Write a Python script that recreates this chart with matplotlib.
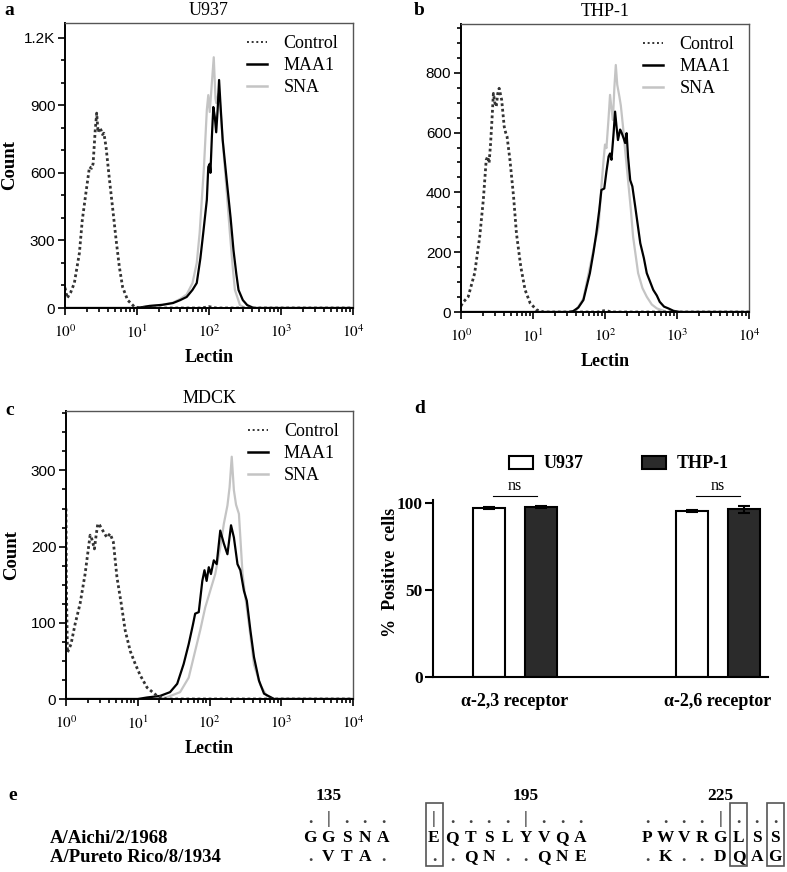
import numpy as np
import matplotlib.pyplot as plt
from matplotlib import font_manager
from matplotlib.lines import Line2D
from matplotlib.patches import Patch, Rectangle
from matplotlib.ticker import LogLocator, FuncFormatter, NullFormatter

plt.rcParams['mathtext.fontset'] = 'stix'
SERIF = 'Liberation Serif'
try:
    font_manager.findfont('Liberation Sans Narrow', fallback_to_default=False)
    SANS = 'Liberation Sans Narrow'
except ValueError:
    SANS = 'Liberation Sans'

# ---- flow histograms: (log10 lectin, count) ----
a_ctrl_x = [0.0, 0.03, 0.08, 0.13, 0.2, 0.24, 0.29, 0.34, 0.37, 0.39, 0.42, 0.44, 0.46, 0.48, 0.5, 0.52,
            0.54, 0.57, 0.615, 0.66, 0.71, 0.755, 0.8, 0.87, 0.965, 1.05, 1.9, 2.0, 2.1, 4.0]
a_ctrl_y = [90, 44, 70, 111, 244, 390, 510, 626, 620, 640, 790, 865, 780, 800, 790, 770,
            776, 715, 577, 448, 302, 182, 93, 35, 5, 0, 0, 6, 0, 0]
a_maa_x = [0.0, 1.0, 1.17, 1.35, 1.5, 1.6, 1.69, 1.77, 1.83, 1.88, 1.92, 1.97, 1.99, 2.01, 2.02, 2.04,
           2.06, 2.08, 2.1, 2.12, 2.14, 2.16, 2.19, 2.25, 2.3, 2.34, 2.38, 2.41, 2.47, 2.53, 2.62, 4.0]
a_maa_y = [0, 0, 9, 14, 22, 35, 49, 80, 111, 220, 333, 480, 626, 640, 600, 760,
           892, 850, 780, 880, 1012, 900, 746, 555, 400, 257, 150, 80, 35, 13, 0, 0]
a_sna_x = [0.0, 1.0, 1.17, 1.35, 1.5, 1.6, 1.69, 1.77, 1.83, 1.87, 1.93, 1.97, 1.99, 2.01, 2.04, 2.066,
           2.09, 2.1, 2.13, 2.15, 2.2, 2.25, 2.29, 2.33, 2.36, 2.43, 2.5, 4.0]
a_sna_y = [0, 0, 9, 14, 24, 40, 60, 110, 200, 333, 626, 880, 945, 870, 1000, 1113,
           930, 910, 950, 923, 700, 500, 333, 180, 80, 13, 0, 0]

b_ctrl_x = [0.0, 0.02, 0.1, 0.19, 0.26, 0.31, 0.35, 0.37, 0.39, 0.41, 0.43, 0.45, 0.47, 0.49, 0.51, 0.53,
            0.565, 0.6, 0.62, 0.64, 0.68, 0.73, 0.77, 0.83, 0.89, 0.96, 1.05, 1.15, 1.9, 2.0, 2.1, 4.0]
b_ctrl_y = [20, 30, 51, 130, 252, 375, 508, 520, 498, 560, 642, 731, 700, 687, 730, 748,
            709, 620, 600, 586, 508, 386, 263, 152, 74, 30, 7, 0, 0, 5, 0, 0]
b_maa_x = [0.0, 1.5, 1.56, 1.63, 1.7, 1.79, 1.84, 1.88, 1.92, 1.95, 1.99, 2.02, 2.05, 2.07, 2.09, 2.12,
           2.14, 2.16, 2.18, 2.21, 2.23, 2.26, 2.28, 2.3, 2.32, 2.35, 2.38, 2.42, 2.49, 2.54, 2.58, 2.67,
           2.72, 2.76, 2.82, 2.88, 2.95, 3.04, 4.0]
b_maa_y = [0, 0, 3, 15, 40, 130, 200, 264, 340, 408, 413, 470, 520, 530, 509, 600,
           670, 620, 575, 610, 600, 580, 565, 598, 520, 441, 420, 352, 230, 180, 130, 74,
           55, 34, 18, 12, 4, 0, 0]
b_sna_x = [0.0, 1.5, 1.56, 1.61, 1.7, 1.79, 1.85, 1.91, 1.95, 1.98, 2.0, 2.02, 2.05, 2.07, 2.09, 2.11,
           2.13, 2.15, 2.17, 2.2, 2.22, 2.25, 2.28, 2.32, 2.36, 2.39, 2.46, 2.52, 2.58, 2.65, 2.72, 2.86, 4.0]
b_sna_y = [0, 0, 3, 10, 45, 150, 220, 285, 420, 508, 560, 548, 650, 726, 680, 642,
           750, 826, 760, 720, 690, 620, 540, 441, 340, 252, 130, 80, 51, 25, 12, 0, 0]

c_ctrl_x = [0.0, 0.005, 0.02, 0.07, 0.126, 0.196, 0.266, 0.336, 0.36, 0.396, 0.42, 0.443, 0.47, 0.5,
            0.57, 0.615, 0.66, 0.71, 0.77, 0.825, 0.895, 0.965, 1.035, 1.13, 1.27, 1.4, 4.0]
c_ctrl_y = [250, 150, 61, 72, 98, 125, 164, 215, 210, 197, 215, 230, 228, 223,
            212, 217, 206, 160, 125, 90, 63, 46, 31, 15, 4, 0, 0]
c_maa_x = [0.0, 1.0, 1.13, 1.31, 1.45, 1.55, 1.64, 1.71, 1.77, 1.8, 1.85, 1.9, 1.93, 1.96, 1.99, 2.02,
           2.06, 2.1, 2.15, 2.2, 2.25, 2.3, 2.34, 2.39, 2.43, 2.48, 2.52, 2.57, 2.62, 2.69, 2.76, 2.9, 4.0]
c_maa_y = [0, 0, 2, 4, 9, 20, 46, 72, 98, 112, 114, 155, 169, 155, 173, 164,
           182, 177, 221, 204, 190, 228, 212, 177, 169, 142, 129, 90, 55, 24, 7, 0, 0]
c_sna_x = [0.0, 1.2, 1.4, 1.59, 1.71, 1.8, 1.87, 1.94, 2.01, 2.08, 2.15, 2.2, 2.25, 2.28, 2.31, 2.34,
           2.37, 2.41, 2.46, 2.5, 2.55, 2.62, 2.71, 2.8, 2.9, 4.0]
c_sna_y = [0, 0, 2, 9, 28, 63, 90, 120, 142, 164, 199, 230, 254, 278, 318, 274,
           255, 243, 165, 133, 98, 45, 18, 4, 0, 0]

# ---- panel d ----
receptors = ['α-2,3 receptor', 'α-2,6 receptor']
u937_pos = [97.2, 95.8]
u937_err = [0.5, 0.6]
thp1_pos = [97.8, 96.6]
thp1_err = [0.6, 1.9]

# ---- panel e ----
strains = ['A/Aichi/2/1968', 'A/Pureto Rico/8/1934']
site_numbers = ['135', '195', '225']
aichi_blocks = ['GGSNA', 'EQTSLYVQA', 'PWVRGLSS']
pr_blocks = ['.VTA.', '..QN..QNE', '.K..DQAG']
marker_blocks = ['.|...', '|....|...', '....|...']
number_index = [1, 5, 4]
boxed = [[], [0], [5, 7]]

W, H = 787, 872
fig = plt.figure(figsize=(W / 100, H / 100), dpi=100)


def box(l, t, r, b):
    return [l / W, 1 - b / H, (r - l) / W, (b - t) / H]


def flow_panel(ax, ctrl, maa, sna, ylim, yticks, ylabels, minor, title):
    ax.plot(10 ** np.array(sna[0]), sna[1], color='#c4c4c4', lw=1.6)
    ax.plot(10 ** np.array(maa[0]), maa[1], color='black', lw=1.6)
    ax.plot(10 ** np.array(ctrl[0]), ctrl[1], color='#333333', lw=2.0, ls=(0, (1, 1)))
    ax.set_xscale('log')
    ax.set_xlim(1, 1e4)
    ax.set_ylim(0, ylim)
    ax.set_yticks(yticks, ylabels)
    ax.set_yticks(minor, minor=True)
    ax.xaxis.set_major_locator(LogLocator(base=10, numticks=10))
    ax.xaxis.set_major_formatter(FuncFormatter(lambda v, p: r'$10^{%d}$' % round(np.log10(v))))
    ax.xaxis.set_minor_locator(LogLocator(base=10, subs=np.arange(2, 10), numticks=10))
    ax.xaxis.set_minor_formatter(NullFormatter())
    ax.tick_params(which='both', direction='out', top=False, right=False, width=1.2)
    ax.tick_params(which='major', length=5)
    ax.tick_params(which='minor', length=3)
    ax.tick_params(axis='x', labelsize=11, pad=6)
    ax.tick_params(axis='y', pad=2)
    for lab in ax.get_yticklabels():
        lab.set_fontfamily(SANS)
        lab.set_fontsize(11)
    for s in ['top', 'right']:
        ax.spines[s].set_color('#555555')
        ax.spines[s].set_linewidth(1.0)
    for s in ['left', 'bottom']:
        ax.spines[s].set_linewidth(1.4)
    ax.set_title(title, fontfamily=SERIF, fontsize=13, pad=6)
    ax.set_xlabel('Lectin', fontfamily=SERIF, fontweight='bold', fontsize=13, labelpad=6)
    handles = [Line2D([], [], color='#333333', lw=1.4, ls=(0, (1, 1.4))),
               Line2D([], [], color='black', lw=1.8),
               Line2D([], [], color='#c4c4c4', lw=1.8)]
    ax.legend(handles, ['Control', 'MAA1', 'SNA'], loc='upper left', bbox_to_anchor=(0.577, 1.014),
              frameon=False, handlelength=1.1, handletextpad=0.9, labelspacing=0.28,
              prop={'family': SERIF, 'size': 13})


def count_label(ax):
    ax.set_ylabel('Count', fontfamily=SERIF, fontweight='bold', fontsize=13.5)
    ax.yaxis.label.set_va('center')
    ax.yaxis.set_label_coords(-55 / 288, 0.5)


ax_a = fig.add_axes(box(65, 23, 353, 308))
flow_panel(ax_a, (a_ctrl_x, a_ctrl_y), (a_maa_x, a_maa_y), (a_sna_x, a_sna_y), 1265,
           [0, 300, 600, 900, 1200], ['0', '300', '600', '900', '1.2K'],
           [100, 200, 400, 500, 700, 800, 1000, 1100], 'U937')
count_label(ax_a)

ax_b = fig.add_axes(box(461, 24, 749, 312))
flow_panel(ax_b, (b_ctrl_x, b_ctrl_y), (b_maa_x, b_maa_y), (b_sna_x, b_sna_y), 963,
           [0, 200, 400, 600, 800], ['0', '200', '400', '600', '800'],
           [50, 100, 150, 250, 300, 350, 450, 500, 550, 650, 700, 750, 850, 900, 950], 'THP-1')

ax_c = fig.add_axes(box(66, 411, 353, 699))
flow_panel(ax_c, (c_ctrl_x, c_ctrl_y), (c_maa_x, c_maa_y), (c_sna_x, c_sna_y), 378,
           [0, 100, 200, 300], ['0', '100', '200', '300'],
           [25, 50, 75, 125, 150, 175, 225, 250, 275, 325, 350, 375], 'MDCK')
count_label(ax_c)

# ---- panel d ----
ax_d = fig.add_axes(box(432.7, 500, 768.3, 676.7))
xc = np.arange(len(receptors))
off, bw = 0.128, 0.158
ekw = dict(ecolor='black', elinewidth=1.5, capsize=4, capthick=1.5)
ax_d.bar(xc - off, u937_pos, bw, yerr=u937_err, color='white', edgecolor='black', lw=1.5,
         error_kw=ekw, label='U937')
ax_d.bar(xc + off, thp1_pos, bw, yerr=thp1_err, color='#2b2b2b', edgecolor='black', lw=1.5,
         error_kw=ekw, label='THP-1')
ax_d.set_xlim(-0.406, 1.25)
ax_d.set_ylim(0, 102)
ax_d.set_yticks([0, 50, 100])
ax_d.set_xticks(xc, receptors)
ax_d.tick_params(axis='x', length=0, pad=12)
ax_d.tick_params(axis='y', direction='out', length=6, width=1.5, pad=1)
for lab in ax_d.get_xticklabels() + ax_d.get_yticklabels():
    lab.set_fontfamily(SERIF)
    lab.set_fontweight('bold')
    lab.set_fontsize(13)
for lab in ax_d.get_yticklabels():
    lab.set_fontsize(12.5)
for s in ['top', 'right']:
    ax_d.spines[s].set_visible(False)
for s in ['left', 'bottom']:
    ax_d.spines[s].set_linewidth(1.5)
ax_d.set_ylabel('%  Positive  cells', fontfamily=SERIF, fontweight='bold', fontsize=13)
ax_d.yaxis.label.set_va('center')
ax_d.yaxis.set_label_coords(-42 / 335.6, 0.593)
for x in xc:
    ax_d.plot([x - off + 0.02, x + off - 0.02], [104.4, 104.4], color='black', lw=0.8, clip_on=False)
    ax_d.text(x, 105.5, 'ns', ha='center', va='bottom', fontfamily=SERIF, fontsize=11.5)
dh = [Patch(facecolor='white', edgecolor='black', lw=1.5), Patch(facecolor='#2b2b2b', edgecolor='black', lw=1.5)]
ax_d.legend(dh, ['U937', 'THP-1'], ncol=2, loc='center', bbox_to_anchor=(0.555, 1.204), frameon=False,
            handlelength=1.35, handleheight=0.75, columnspacing=3.2, handletextpad=0.6,
            prop={'family': SERIF, 'weight': 'bold', 'size': 13})

# ---- panel letters ----
for lt, x, y in [('a', 4, 15), ('b', 414, 15), ('c', 5, 415), ('d', 414, 413), ('e', 8, 800)]:
    fig.text(x / W, 1 - y / H, lt, fontfamily=SERIF, fontweight='bold', fontsize=14, va='baseline')

# ---- panel e ----
pitch = 18.3
block_x = [310, 434, 647]
for i in range(3):
    x0 = block_x[i]
    for rowtxt, yb in [(marker_blocks[i], 823), (aichi_blocks[i], 842), (pr_blocks[i], 861)]:
        for k, ch in enumerate(rowtxt):
            fig.text((x0 + k * pitch) / W, 1 - yb / H, ch, ha='center', va='baseline',
                     fontfamily=SERIF, fontweight='bold', fontsize=12.5,
                     color='#444444' if ch in '.|' else 'black')
    xn = x0 + number_index[i] * pitch
    fig.text(xn / W, 1 - 800 / H, site_numbers[i], ha='center', va='baseline',
             fontfamily=SERIF, fontweight='bold', fontsize=12.5)
    for k in boxed[i]:
        xb = x0 + k * pitch
        fig.patches.append(Rectangle(((xb - 8.5) / W, 1 - 866 / H), 17 / W, 63 / H, fill=False,
                                     edgecolor='#555555', lw=1.2, transform=fig.transFigure))
for name, yb in zip(strains, [843, 862]):
    fig.text(50 / W, 1 - yb / H, name, ha='left', va='baseline', fontfamily=SERIF,
             fontweight='bold', fontsize=13.5)

fig.savefig('out.png', dpi=100)
